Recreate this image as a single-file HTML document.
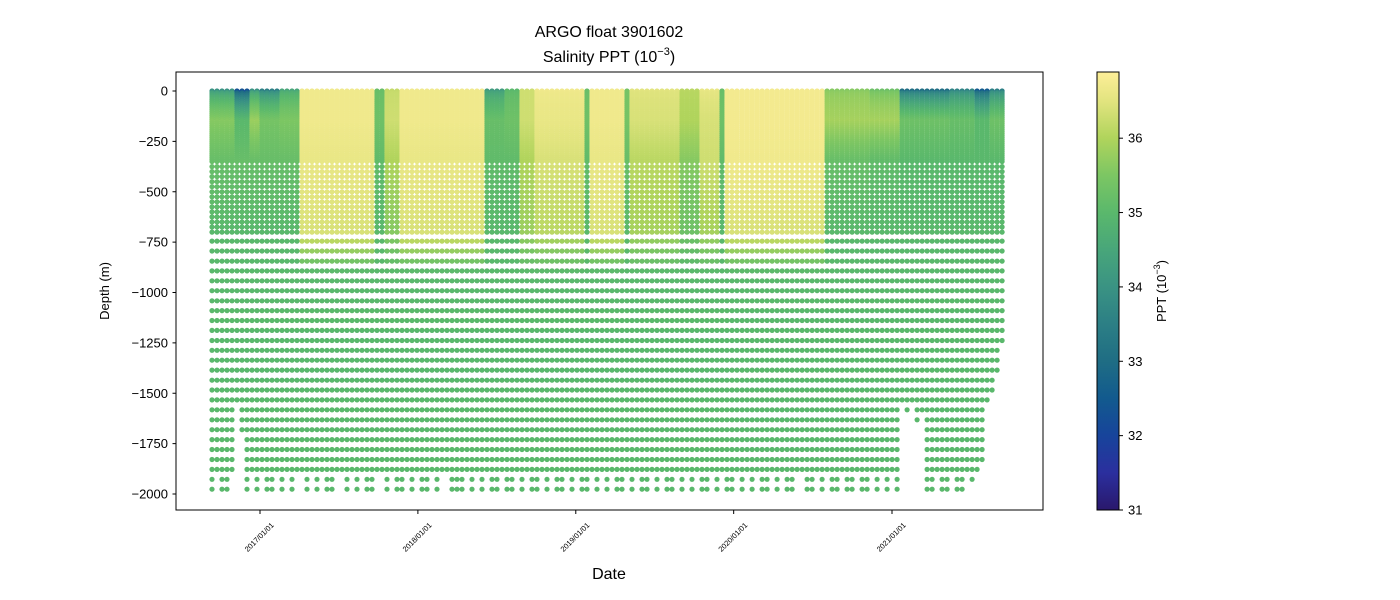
<!DOCTYPE html>
<html><head><meta charset="utf-8">
<style>
html,body{margin:0;padding:0;background:#fff;}
svg{display:block;font-family:"Liberation Sans","DejaVu Sans",sans-serif;}
</style></head>
<body>
<svg id="chart" width="1400" height="600" viewBox="0 0 1400 600" xmlns="http://www.w3.org/2000/svg">
<defs>
<linearGradient id="cbgrad" x1="0" y1="1" x2="0" y2="0"></linearGradient>
<clipPath id="plotclip"><rect x="176" y="72" width="867" height="438"/></clipPath>
</defs>
<text x="609" y="37" font-size="16" text-anchor="middle" fill="#000">ARGO float 3901602</text>
<text x="609" y="62" font-size="16" text-anchor="middle" fill="#000">Salinity PPT (10<tspan font-size="11" dy="-7">−3</tspan><tspan dy="7">)</tspan></text>
<g id="marks" clip-path="url(#plotclip)"></g>
<rect x="176" y="72" width="867" height="438" fill="none" stroke="#000" stroke-width="1"/>
<g id="yaxis"></g>
<g id="xaxis"></g>
<text transform="translate(109,291) rotate(-90)" font-size="13" text-anchor="middle">Depth (m)</text>
<text x="609" y="579" font-size="16" text-anchor="middle">Date</text>
<rect x="1097" y="72" width="22" height="438" fill="url(#cbgrad)" stroke="#000" stroke-width="1"/>
<g id="cbaxis"></g>
<text transform="translate(1166,291) rotate(-90)" font-size="13" text-anchor="middle">PPT (10<tspan font-size="9" dy="-6">−3</tspan><tspan dy="6">)</tspan></text>
</svg>
<script>
// ---- data ----
const startDate = "2016-09-12";
const cycleDays = 11.56;
const profileCount = 159;
// regime segments: first profile index, surface, 150m, 350m, 700m salinity
const segStart = [0,5,8,10,14,18,33,35,38,55,59,62,65,75,76,83,84,94,98,102,103,123,132,138,148,153,156];
const segSurf  = [34.0,32.3,34.0,33.5,34.5,36.7,35.2,36.2,36.7,34.2,35.0,36.3,36.7,35.2,36.7,35.4,36.5,36.1,36.6,35.2,36.75,35.6,35.3,33.0,33.6,32.5,33.5];
const segUpper = [35.6,35.0,35.8,35.4,35.5,36.7,35.3,36.3,36.7,35.2,35.3,36.3,36.6,35.3,36.7,35.4,36.4,36.0,36.4,35.3,36.75,35.9,35.9,35.3,35.2,35.0,35.3];
const seg350   = [35.2,35.2,35.2,35.2,35.2,36.6,35.1,36.0,36.6,35.1,35.1,36.0,36.4,35.1,36.6,35.2,36.1,35.6,36.3,35.1,36.7,35.2,35.1,35.0,35.0,35.0,35.0];
const seg700   = [35.0,35.0,35.0,35.0,35.0,36.4,35.0,35.6,36.4,35.0,35.0,35.8,36.1,35.0,36.4,35.0,35.9,35.3,35.9,35.0,36.4,35.0,35.0,35.0,35.0,35.0,35.0];
const deepValue = 35.0;
// maximum sampled depth per profile (m)
const maxDepth = [1976,1926,1976,1976,1926,1575,1725,1976,1926,1976,1926,1976,1976,1926,1976,1926,1976,1926,1926,1976,
1926,1976,1926,1976,1976,1926,1926,1976,1926,1976,1926,1976,1976,1926,1926,1976,1926,1976,1976,1926,
1976,1926,1976,1976,1926,1976,1926,1926,1976,1976,1976,1926,1976,1926,1976,1926,1976,1976,1926,1976,
1976,1926,1976,1926,1976,1976,1926,1976,1926,1976,1976,1926,1976,1926,1976,1976,1926,1976,1926,1976,
1926,1976,1976,1926,1976,1926,1976,1976,1926,1976,1926,1976,1976,1926,1976,1926,1976,1926,1976,1976,
1926,1976,1926,1976,1976,1926,1976,1926,1976,1926,1976,1976,1926,1976,1926,1976,1976,1926,1926,1976,
1976,1926,1976,1926,1976,1976,1926,1976,1976,1926,1976,1976,1926,1976,1926,1976,1926,1976,1550,1600,
1550,1650,1600,1976,1976,1926,1976,1976,1926,1976,1976,1926,1950,1900,1850,1550,1500,1400,1250];
const topLevels = [0,10,20,30,40,50,60,70,80,90,100,110,120,130,140,150,160,170,180,190,200,210,220,230,240,250,260,270,280,290,300,310,320,330,340,350];
const midLevels = [375,400,425,450,475,500,525,550,575,600,625,650,675,700];
const deepLevels = [745,794,844,893,942,991,1041,1090,1139,1188,1238,1287,1336,1385,1435,1484,1533,1582,1632,1681,1730,1779,1829,1878,1927,1976];
const yTicks = [0,-250,-500,-750,-1000,-1250,-1500,-1750,-2000];
const xTickLabels = ["2017/01/01","2018/01/01","2019/01/01","2020/01/01","2021/01/01"];
const cbTicks = [31,32,33,34,35,36];
const cmin = 31, cmax = 36.89;
const cmapVals = [31.0,31.5,32.0,32.5,33.0,33.5,34.0,34.5,35.0,35.5,36.0,36.5,36.89];
const cmapCols = ["#2a186c","#2b2f9e","#17449b","#125a8e","#1f6d84","#2c7f85","#3a9383","#48a67a","#5ab86c","#7cc663","#b0d45c","#e2e47f","#fdee98"];

// ---- scales ----
const NS="http://www.w3.org/2000/svg";
const y0=91, pxPerM=403/2000;
function yScale(depthNeg){return y0 - depthNeg*pxPerM;}
const refT = Date.parse("2017-01-01"), pxPerDay = 158/365.25;
function xScale(t){return 260 + (t-refT)/86400000*pxPerDay;}
function hex(h){return [1,3,5].map(k=>parseInt(h.substr(k,2),16));}
function color(v){
  if(v<=cmapVals[0]) return cmapCols[0];
  for(let k=1;k<cmapVals.length;k++){
    if(v<=cmapVals[k]){
      const f=(v-cmapVals[k-1])/(cmapVals[k]-cmapVals[k-1]);
      const a=hex(cmapCols[k-1]), b=hex(cmapCols[k]);
      return "rgb("+a.map((c,j)=>Math.round(c+(b[j]-c)*f)).join(",")+")";
    }
  }
  return cmapCols[cmapCols.length-1];
}
function seg(i){let s=0;for(let k=0;k<segStart.length;k++){if(segStart[k]<=i)s=k;}return s;}
function salinity(i,d){
  const s=seg(i);
  if(d<=150) return segSurf[s]+(segUpper[s]-segSurf[s])*Math.sqrt(d/150);
  if(d<=350) return segUpper[s]+(seg350[s]-segUpper[s])*(d-150)/200;
  if(d<=700) return seg350[s]+(seg700[s]-seg350[s])*(d-350)/350;
  if(d<=900) return seg700[s]+(deepValue-seg700[s])*(d-700)/200;
  return deepValue;
}
// ---- marks ----
const marks=document.getElementById("marks");
const t0=Date.parse(startDate);
const allLevels=topLevels.concat(midLevels,deepLevels);
let html="";
for(let i=0;i<profileCount;i++){
  const x=xScale(t0+i*cycleDays*86400000);
  for(const d of allLevels){
    if(d>maxDepth[i]) continue;
    html+='<circle cx="'+x.toFixed(1)+'" cy="'+yScale(-d).toFixed(1)+'" r="2.6" fill="'+color(salinity(i,d))+'"/>';
  }
}
marks.innerHTML=html;

// ---- y axis ----
const ya=document.getElementById("yaxis");
for(const v of yTicks){
  const y=yScale(v);
  const l=document.createElementNS(NS,"line");
  
  
  l.setAttribute("x1",172.5);l.setAttribute("x2",176);l.setAttribute("y1",y);l.setAttribute("y2",y);l.setAttribute("stroke","#000");
  ya.appendChild(l);
  const t=document.createElementNS(NS,"text");
  
  
  t.setAttribute("x",168);t.setAttribute("y",y+4.5);t.setAttribute("font-size","13");t.setAttribute("text-anchor","end");
  t.textContent=v===0?"0":"\u2212"+Math.abs(v);
  ya.appendChild(t);
}
// ---- x axis ----
const xa=document.getElementById("xaxis");
for(const lab of xTickLabels){
  const x=xScale(Date.parse(lab.replace(/\//g,"-")));
  const l=document.createElementNS(NS,"line");
  
  
  l.setAttribute("x1",x);l.setAttribute("x2",x);l.setAttribute("y1",510);l.setAttribute("y2",514);l.setAttribute("stroke","#000");
  xa.appendChild(l);
  const t=document.createElementNS(NS,"text");
  
  
  t.setAttribute("font-size","7.5");t.setAttribute("text-anchor","middle");
  t.setAttribute("transform","translate("+(x+1)+",539) rotate(-45)");
  t.textContent=lab;
  xa.appendChild(t);
}
// ---- colorbar ----
const g=document.getElementById("cbgrad");
for(let k=0;k<cmapVals.length;k++){
  const s=document.createElementNS(NS,"stop");
  s.setAttribute("offset",((cmapVals[k]-cmin)/(cmax-cmin)).toFixed(4));
  s.setAttribute("stop-color",cmapCols[k]);
  g.appendChild(s);
}
const ca=document.getElementById("cbaxis");
function cbY(v){return 510-(v-cmin)/(cmax-cmin)*438;}
for(const v of cbTicks){
  const y=cbY(v);
  const l=document.createElementNS(NS,"line");
  
  
  l.setAttribute("x1",1119);l.setAttribute("x2",1123);l.setAttribute("y1",y);l.setAttribute("y2",y);l.setAttribute("stroke","#000");
  ca.appendChild(l);
  const t=document.createElementNS(NS,"text");
  
  
  t.setAttribute("x",1128);t.setAttribute("y",y+4.5);t.setAttribute("font-size","13");
  t.textContent=v;
  ca.appendChild(t);
}
</script>
</body></html>
